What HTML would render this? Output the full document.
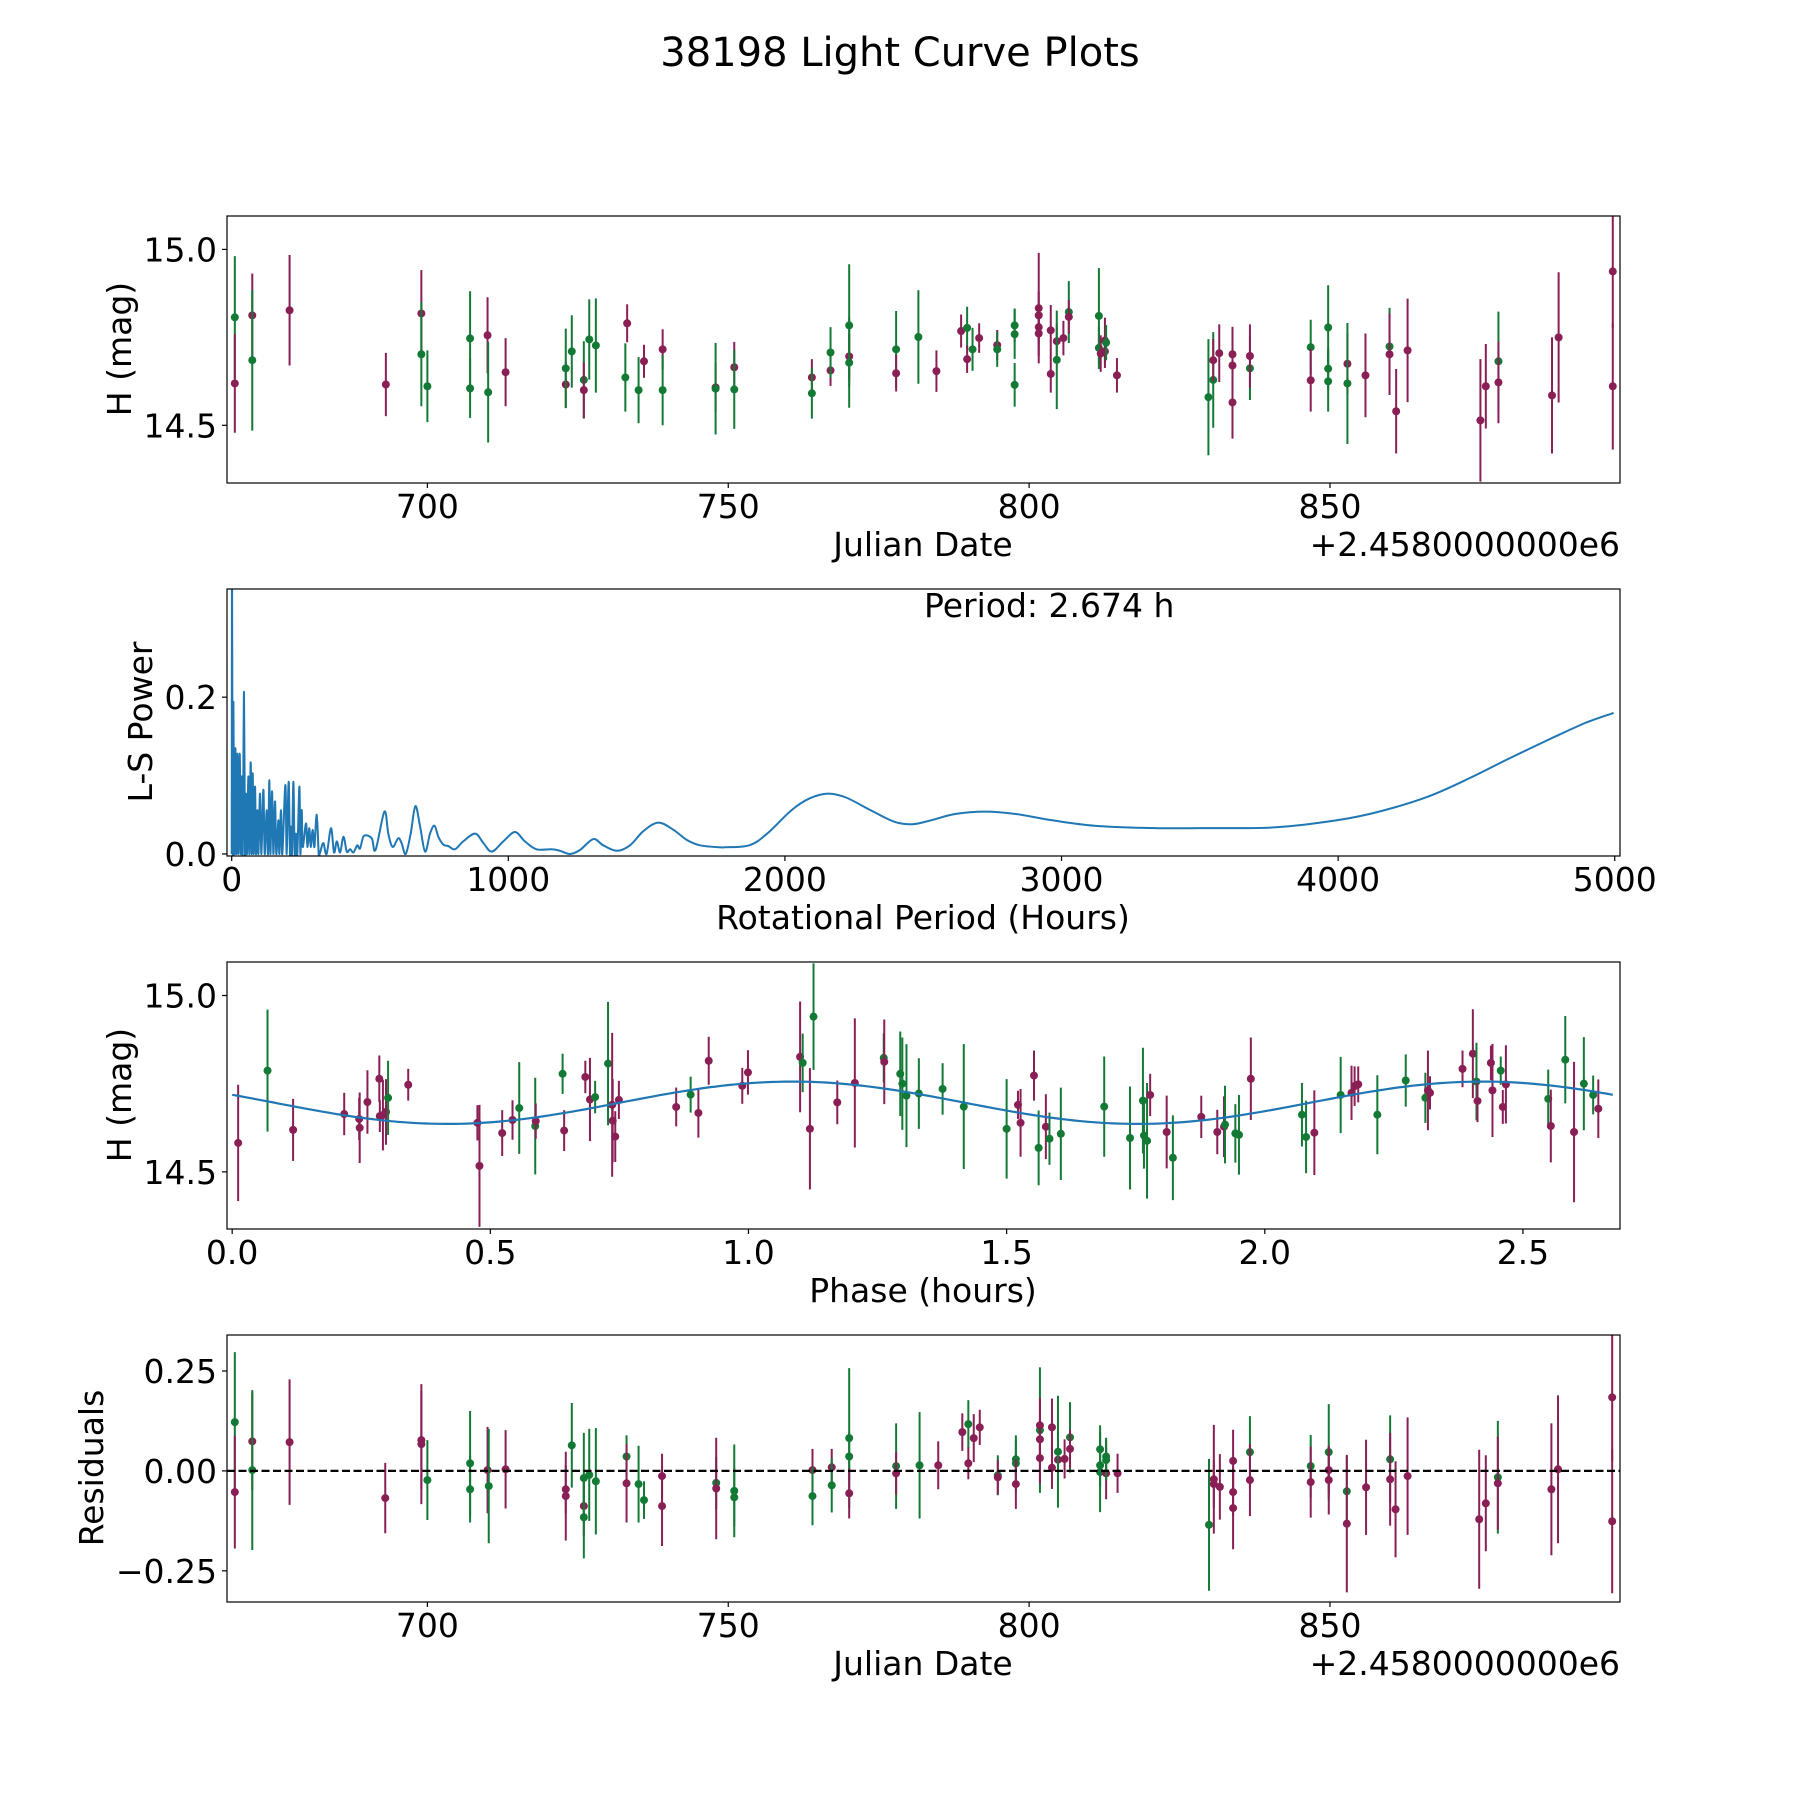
<!DOCTYPE html>
<html><head><meta charset="utf-8"><title>38198 Light Curve Plots</title>
<style>
html,body{margin:0;padding:0;background:#fff;}
svg{display:block;font-family:"DejaVu Sans","Liberation Sans",sans-serif;}
</style></head>
<body>
<svg id="fig" xmlns="http://www.w3.org/2000/svg" width="1800" height="1800" viewBox="0 0 1800 1800">
<rect x="0" y="0" width="1800" height="1800" fill="#fff"/>
<text x="900" y="66" font-size="40" text-anchor="middle">38198 Light Curve Plots</text>
<text x="923" y="556" font-size="33" text-anchor="middle">Julian Date</text>
<text x="1620" y="556" font-size="33" text-anchor="end">+2.4580000000e6</text>
<text transform="translate(131,349) rotate(-90)" font-size="33" text-anchor="middle">H (mag)</text>
<text x="923" y="929" font-size="33" text-anchor="middle">Rotational Period (Hours)</text>
<text transform="translate(152,722) rotate(-90)" font-size="33" text-anchor="middle">L-S Power</text>
<text x="924" y="617" font-size="33">Period: 2.674 h</text>
<text x="923" y="1302" font-size="33" text-anchor="middle">Phase (hours)</text>
<text transform="translate(131,1095) rotate(-90)" font-size="33" text-anchor="middle">H (mag)</text>
<text x="923" y="1675" font-size="33" text-anchor="middle">Julian Date</text>
<text x="1620" y="1675" font-size="33" text-anchor="end">+2.4580000000e6</text>
<text transform="translate(103,1468) rotate(-90)" font-size="33" text-anchor="middle">Residuals</text>
</svg>
<script>
// ---- Light curve (panel 1) ----
const lcJD = [668.0,668.0,670.9,670.9,677.1,693.1,699.0,699.0,700.0,707.1,707.1,710.0,710.1,713.0,723.0,723.0,724.0,726.0,726.0,726.9,728.0,733.2,732.9,735.1,736.0,739.1,739.1,747.9,747.9,751.0,751.0,763.9,763.9,767.0,767.0,770.1,770.1,770.1,777.9,777.9,781.6,784.6,788.7,789.7,789.7,790.6,791.7,794.7,794.7,797.6,797.6,797.6,801.6,801.6,801.6,801.6,803.6,803.6,804.6,804.6,805.7,806.6,806.6,811.6,811.6,811.9,812.6,812.6,812.8,814.6,829.8,830.6,830.6,831.6,833.8,833.8,833.8,836.7,836.7,846.8,846.8,849.7,849.7,849.7,852.9,852.9,855.9,859.9,859.9,861.0,862.9,875.0,875.9,878.0,878.0,886.9,888.0,897.0,897.0];
const lcMag = [14.807,14.619,14.8125,14.685,14.827,14.616,14.818,14.702,14.611,14.747,14.605,14.756,14.594,14.651,14.616,14.662,14.71,14.629,14.6,14.744,14.727,14.79,14.636,14.6,14.682,14.716,14.6,14.608,14.604,14.665,14.602,14.636,14.591,14.656,14.707,14.784,14.696,14.678,14.716,14.648,14.751,14.654,14.768,14.777,14.688,14.716,14.748,14.728,14.716,14.784,14.759,14.615,14.833,14.8125,14.779,14.761,14.77,14.646,14.739,14.686,14.748,14.822,14.808,14.811,14.72,14.704,14.71,14.741,14.735,14.642,14.58,14.629,14.685,14.705,14.702,14.67,14.565,14.662,14.697,14.722,14.628,14.778,14.661,14.625,14.675,14.619,14.642,14.724,14.702,14.54,14.713,14.514,14.611,14.682,14.622,14.585,14.75,14.9375,14.611];
const lcErr = [0.174,0.14,0.119,0.2,0.157,0.09,0.123,0.148,0.102,0.134,0.084,0.108,0.143,0.097,0.066,0.113,0.103,0.11,0.079,0.114,0.134,0.054,0.097,0.094,0.047,0.057,0.1,0.07,0.13,0.072,0.112,0.052,0.072,0.044,0.072,0.174,0.065,0.128,0.109,0.052,0.133,0.059,0.047,0.06,0.039,0.061,0.042,0.043,0.05,0.048,0.07,0.062,0.157,0.068,0.05,0.063,0.072,0.053,0.05,0.14,0.049,0.088,0.048,0.136,0.06,0.052,0.047,0.065,0.05,0.049,0.165,0.136,0.06,0.082,0.078,0.06,0.103,0.09,0.09,0.078,0.089,0.12,0.06,0.086,0.087,0.172,0.119,0.11,0.116,0.12,0.147,0.174,0.12,0.141,0.116,0.165,0.185,0.16,0.18];
const lcBand = "gppgpppggggpgppgggpggpggppgpgpgpgpggpggpgppgpgppggggpppppppgpgpggpppgpggpppppgpgpgggpgpgpppppgpppppppg".split("");

// ---- Lomb-Scargle (panel 2) ----
const lsPeriod = [0,1.2,3.6,6,9.6,13.3,16.9,20.5,24.1,28.9,32.5,36.1,39.8,44.6,48.2,51.8,55.4,60.2,63.9,68.7,72.3,75.9,79.5,84.3,88,92.8,96.4,102.4,107.2,114.5,119.3,126.5,131.3,136.1,139.8,145.8,150.6,156.6,161.4,168.7,172.3,178.3,183.1,194,198.8,206,210.8,214.5,218.1,222.9,227.7,232.5,237.3,244.6,248.2,253,256.6,268.7,273.5,280.7,285.5,292.8,298.8,307.2,314.5,319,331,343,359,370,380,392,404,416,428,440,454,464,478,506,520,552,566,582,602,614,629,647,664,681,699,717,733,747,765,783,807,837,880,910,940,982,1024,1060,1102,1157,1187,1223,1259,1307,1343,1392,1440,1488,1542,1596,1645,1693,1765,1783,1871,1936,2024,2090,2155,2221,2309,2396,2462,2528,2615,2725,2834,2966,3119,3338,3557,3776,3995,4148,4324,4477,4608,4762,4893,4996];
const lsPower = [0,0.38,0,0.194,0,0.135,0,0.128,0,0.128,0,0.099,0,0.207,0,0.077,0,0.099,0,0.117,0,0.103,0,0.086,0,0.056,0,0.077,0,0.082,0,0.056,0,0.094,0,0.08,0,0.067,0,0.043,0,0.056,0,0.088,0,0.092,0,0.035,0,0.092,0,0.026,0,0.086,0,0.056,0.009,0.039,0.009,0.033,0.009,0.031,0.009,0.05,0,0.001,0.014,0,0.033,0.002,0.016,0.002,0.022,0.003,0.006,0.002,0.011,0.007,0.023,0.02,0.005,0.054,0.026,0.009,0.02,0.014,0,0.026,0.061,0.035,0.003,0.026,0.036,0.022,0.012,0.01,0.006,0.016,0.026,0.014,0.003,0.016,0.028,0.016,0.006,0.006,0.004,0,0.005,0.019,0.011,0.004,0.011,0.029,0.04,0.031,0.018,0.011,0.0085,0.0085,0.011,0.026,0.056,0.071,0.077,0.072,0.056,0.041,0.038,0.043,0.051,0.054,0.051,0.043,0.036,0.033,0.033,0.034,0.043,0.054,0.073,0.097,0.12,0.146,0.167,0.18];

// ---- Phased light curve (panel 3) ----
const phPhase = [0.0116,0.0685,0.118,0.217,0.246,0.247,0.262,0.285,0.286,0.292,0.298,0.302,0.341,0.475,0.479,0.523,0.543,0.556,0.587,0.588,0.64,0.643,0.684,0.693,0.703,0.728,0.736,0.737,0.742,0.749,0.86,0.888,0.903,0.923,0.988,0.999,1.1,1.105,1.119,1.126,1.172,1.206,1.262,1.263,1.294,1.298,1.306,1.33,1.376,1.417,1.5,1.522,1.527,1.553,1.562,1.576,1.583,1.605,1.689,1.739,1.764,1.766,1.772,1.778,1.81,1.822,1.877,1.908,1.921,1.923,1.943,1.95,1.973,2.072,2.08,2.096,2.147,2.168,2.174,2.181,2.218,2.273,2.311,2.316,2.32,2.383,2.403,2.41,2.412,2.438,2.441,2.457,2.461,2.467,2.549,2.554,2.582,2.599,2.618,2.636,2.646];
const phMag = [14.582,14.787,14.619,14.664,14.65,14.625,14.698,14.764,14.658,14.661,14.67,14.71,14.747,14.639,14.517,14.61,14.647,14.681,14.63,14.644,14.778,14.617,14.769,14.705,14.712,14.807,14.69,14.645,14.6,14.704,14.684,14.719,14.667,14.815,14.744,14.782,14.826,14.809,14.622,14.94,14.697,14.752,14.823,14.812,14.778,14.75,14.716,14.722,14.735,14.685,14.622,14.69,14.639,14.773,14.568,14.628,14.594,14.608,14.685,14.596,14.702,14.603,14.588,14.718,14.613,14.54,14.656,14.613,14.628,14.634,14.609,14.605,14.764,14.662,14.599,14.611,14.718,14.724,14.743,14.748,14.662,14.759,14.71,14.731,14.724,14.792,14.835,14.756,14.701,14.809,14.731,14.787,14.684,14.748,14.707,14.63,14.818,14.613,14.75,14.718,14.679];
const phErr = [0.165,0.173,0.088,0.06,0.06,0.1,0.09,0.066,0.045,0.1,0.093,0.105,0.045,0.05,0.173,0.065,0.056,0.13,0.137,0.05,0.057,0.058,0.046,0.118,0.046,0.175,0.204,0.118,0.072,0.054,0.055,0.051,0.07,0.068,0.051,0.063,0.157,0.083,0.172,0.151,0.062,0.183,0.07,0.12,0.12,0.131,0.146,0.1,0.073,0.177,0.141,0.04,0.096,0.071,0.106,0.092,0.074,0.131,0.142,0.146,0.15,0.094,0.164,0.06,0.103,0.12,0.06,0.063,0.086,0.11,0.083,0.113,0.117,0.09,0.103,0.12,0.108,0.077,0.056,0.051,0.112,0.074,0.071,0.113,0.047,0.052,0.126,0.11,0.06,0.049,0.132,0.04,0.048,0.111,0.083,0.103,0.124,0.199,0.132,0.055,0.083];
const phBand = "pgpppppppppgpppppggpgpppggpppppgpppppgpgppgpgggggggpppgpgggggggppgpppgggpggpgpppgggppppgpppgppgpgpggpp".split("");
// Fitted model coefficients: mean magnitude, amplitude, phase of maximum, model period (hours)
const fitMean = [14.696];
const fitAmp = [0.06];
const fitPeak = [1.085];
const fitHalfPeriod = [1.337];

// ---- Residuals (panel 4) ----
const rsJD = [668.0,668.0,670.9,670.9,677.1,693.0,699.0,699.0,700.0,707.1,707.1,710.0,710.2,713.0,723.0,723.0,724.0,726.0,726.0,726.0,726.9,728.0,733.1,733.1,735.1,736.0,739.0,739.0,748.0,748.0,751.0,751.0,764.0,764.0,767.2,767.2,770.1,770.1,770.1,777.9,777.9,781.8,784.9,788.9,789.9,789.9,790.8,791.8,794.8,794.8,797.8,797.8,797.8,801.8,801.8,801.8,801.8,803.8,803.8,804.8,804.8,805.9,806.8,806.8,811.8,811.8,811.8,812.8,812.8,812.8,814.7,829.9,830.7,830.7,831.7,833.9,833.9,833.9,836.7,836.7,846.8,846.8,849.8,849.8,849.8,852.8,852.8,856.0,860.0,860.0,860.9,862.9,874.8,875.9,877.9,877.9,886.8,887.9,896.9,896.9];
const rsVal = [0.122,-0.053,0.074,0.002,0.072,-0.068,0.077,0.067,-0.023,0.019,-0.046,0.002,-0.038,0.004,-0.046,-0.063,0.064,-0.088,-0.116,-0.018,-0.01,-0.026,0.036,-0.031,-0.033,-0.073,-0.013,-0.088,-0.03,-0.044,-0.05,-0.066,0.002,-0.063,0.009,-0.036,0.082,0.036,-0.056,0.012,-0.006,0.014,0.014,0.097,0.117,0.019,0.082,0.109,-0.011,-0.016,0.029,0.019,-0.033,0.102,0.114,0.079,0.032,0.109,0.008,0.028,0.048,0.03,0.084,0.055,0.054,-0.003,0.014,0.036,-0.006,0.027,-0.006,-0.135,-0.021,-0.033,-0.04,0.025,-0.053,-0.093,0.047,-0.023,0.012,-0.028,0.047,0.002,-0.023,-0.051,-0.132,-0.041,0.029,-0.021,-0.096,-0.013,-0.121,-0.081,-0.016,-0.031,-0.046,0.004,0.184,-0.126];
const rsErr = [0.175,0.141,0.122,0.2,0.157,0.088,0.123,0.15,0.1,0.131,0.083,0.108,0.143,0.098,0.06,0.111,0.106,0.075,0.103,0.113,0.115,0.133,0.053,0.098,0.096,0.047,0.056,0.1,0.065,0.127,0.116,0.073,0.053,0.073,0.046,0.068,0.175,0.06,0.063,0.107,0.053,0.133,0.06,0.047,0.06,0.04,0.06,0.044,0.05,0.043,0.048,0.07,0.062,0.157,0.068,0.05,0.063,0.072,0.053,0.05,0.14,0.049,0.088,0.048,0.06,0.1,0.052,0.047,0.065,0.05,0.049,0.165,0.136,0.06,0.082,0.078,0.06,0.103,0.09,0.09,0.078,0.089,0.12,0.06,0.086,0.087,0.172,0.119,0.11,0.116,0.12,0.147,0.174,0.12,0.141,0.116,0.165,0.185,0.16,0.18];
const rsBand = "gppgppppgggpgpppgpgggggpggppgpggpgpgggpgpgppgpppgpggpgppppppgpgpggggpgpgppppppgpgpgppgppgpppppgpppppppg".split("");

const lcTicksX = [700,750,800,850];
const lcTicksY = [14.5,15.0];
const lsTicksX = [0,1000,2000,3000,4000,5000];
const lsTicksY = [0.0,0.2];
const phTicksX = [0.0,0.5,1.0,1.5,2.0,2.5];
const rsTicksY = [-0.25,0.0,0.25];

const NS = "http://www.w3.org/2000/svg";
const svg = document.getElementById("fig");
const COL = {g:"#137a35", p:"#8a1f55"};
const X0 = 227, X1 = 1620;

function mk(tag, name, parent){
  const el = document.createElementNS(NS, tag);
  
  
  (parent || svg).appendChild(el);
  return el;
}
function scale(d0,d1,r0,r1){ return v => r0 + (v-d0)*(r1-r0)/(d1-d0); }
function fmt(v,dec){ const s = v.toFixed(dec); return v < 0 ? "\u2212" + s.slice(1) : s; }

let clipId = 0;
function makePanel(name, xd, yd, top, bottom){
  const p = {sx: scale(xd[0],xd[1],X0,X1), sy: scale(yd[0],yd[1],bottom,top), top, bottom};
  const cp = mk('clipPath', name + '-clip');
  cp.setAttribute('id', 'clip' + (++clipId));
  const r = mk('rect', name + '-clip-rect', cp);
  r.setAttribute('x', X0); r.setAttribute('y', top);
  r.setAttribute('width', X1-X0); r.setAttribute('height', bottom-top);
  const g = mk('g', name + '-plot-area');
  g.setAttribute('clip-path', 'url(#clip' + clipId + ')');
  p.g = g;
  return p;
}
function frame(p, name){
  const r = mk('rect', name + '-frame');
  r.setAttribute('x', X0); r.setAttribute('y', p.top);
  r.setAttribute('width', X1-X0); r.setAttribute('height', p.bottom-p.top);
  r.setAttribute('fill', 'none'); r.setAttribute('stroke', '#000'); r.setAttribute('stroke-width', '1.2');
}
function xTicks(p, ticks, dec, name){
  ticks.forEach(t => {
    const x = p.sx(t);
    const l = mk('line', name + '-x-tick');
    l.setAttribute('x1', x); l.setAttribute('x2', x);
    l.setAttribute('y1', p.bottom); l.setAttribute('y2', p.bottom + 5);
    l.setAttribute('stroke', '#000'); l.setAttribute('stroke-width', '1.2');
    const tx = mk('text', name + '-x-tick-label');
    tx.setAttribute('x', x); tx.setAttribute('y', p.bottom + 35);
    tx.setAttribute('font-size', '33'); tx.setAttribute('text-anchor', 'middle');
    tx.textContent = fmt(t, dec);
  });
}
function yTicks(p, ticks, dec, name){
  ticks.forEach(t => {
    const y = p.sy(t);
    const l = mk('line', name + '-y-tick');
    l.setAttribute('x1', X0 - 5); l.setAttribute('x2', X0);
    l.setAttribute('y1', y); l.setAttribute('y2', y);
    l.setAttribute('stroke', '#000'); l.setAttribute('stroke-width', '1.2');
    const tx = mk('text', name + '-y-tick-label');
    tx.setAttribute('x', X0 - 10); tx.setAttribute('y', y + 12);
    tx.setAttribute('font-size', '33'); tx.setAttribute('text-anchor', 'end');
    tx.textContent = fmt(t, dec);
  });
}
function errPoints(p, xs, ys, es, bands, name){
  for (let i = 0; i < xs.length; i++){
    const x = p.sx(xs[i]);
    const c = COL[bands[i]] || COL.p;
    const l = mk('line', name + '-errorbar', p.g);
    l.setAttribute('x1', x); l.setAttribute('x2', x);
    l.setAttribute('y1', p.sy(ys[i] - es[i])); l.setAttribute('y2', p.sy(ys[i] + es[i]));
    l.setAttribute('stroke', c); l.setAttribute('stroke-width', '2');
    const d = mk('circle', name + '-point', p.g);
    d.setAttribute('cx', x); d.setAttribute('cy', p.sy(ys[i]));
    d.setAttribute('r', '4'); d.setAttribute('fill', c);
  }
}
// Catmull-Rom smoothed path through screen points
function smoothPath(pts){
  let d = 'M' + pts[0][0].toFixed(1) + ',' + pts[0][1].toFixed(1);
  for (let i = 0; i < pts.length - 1; i++){
    const p0 = pts[Math.max(0, i-1)], p1 = pts[i], p2 = pts[i+1], p3 = pts[Math.min(pts.length-1, i+2)];
    const c1x = p1[0] + (p2[0]-p0[0])/6, c1y = p1[1] + (p2[1]-p0[1])/6;
    const c2x = p2[0] - (p3[0]-p1[0])/6, c2y = p2[1] - (p3[1]-p1[1])/6;
    d += 'C' + c1x.toFixed(1) + ',' + c1y.toFixed(1) + ' ' + c2x.toFixed(1) + ',' + c2y.toFixed(1) + ' ' + p2[0].toFixed(1) + ',' + p2[1].toFixed(1);
  }
  return d;
}

// Panel 1
const p1 = makePanel('lc', [666.7, 898.2], [14.336, 15.095], 216, 483);
errPoints(p1, lcJD, lcMag, lcErr, lcBand, 'lc');
frame(p1, 'lc'); xTicks(p1, lcTicksX, 0, 'lc'); yTicks(p1, lcTicksY, 1, 'lc');

// Panel 2
const p2 = makePanel('ls', [-17, 5019], [-0.0026, 0.338], 589, 856);
const lsPts = lsPeriod.map((v,i) => [p2.sx(v), p2.sy(lsPower[i])]);
const lsPath = mk('path', 'ls-power-line', p2.g);
lsPath.setAttribute('d', smoothPath(lsPts));
lsPath.setAttribute('fill', 'none'); lsPath.setAttribute('stroke', '#1f77b4');
lsPath.setAttribute('stroke-width', '2'); lsPath.setAttribute('stroke-linejoin', 'round');
frame(p2, 'ls'); xTicks(p2, lsTicksX, 0, 'ls'); yTicks(p2, lsTicksY, 1, 'ls');

// Panel 3
const p3 = makePanel('phase', [-0.01, 2.688], [14.338, 15.095], 962, 1229);
errPoints(p3, phPhase, phMag, phErr, phBand, 'phase');
const fitPts = [];
for (let k = 0; k <= 200; k++){
  const ph = 2.674 * k / 200;
  const m = fitMean[0] + fitAmp[0] * Math.cos(2*Math.PI*(ph - fitPeak[0]) / fitHalfPeriod[0]);
  fitPts.push((k ? 'L' : 'M') + p3.sx(ph).toFixed(1) + ',' + p3.sy(m).toFixed(1));
}
const fitPath = mk('path', 'model-fit-curve', p3.g);
fitPath.setAttribute('d', fitPts.join(''));
fitPath.setAttribute('fill', 'none'); fitPath.setAttribute('stroke', '#1f77b4'); fitPath.setAttribute('stroke-width', '2.2');
frame(p3, 'phase'); xTicks(p3, phTicksX, 1, 'phase'); yTicks(p3, lcTicksY, 1, 'phase');

// Panel 4
const p4 = makePanel('resid', [666.7, 898.2], [-0.328, 0.34], 1335, 1602);
errPoints(p4, rsJD, rsVal, rsErr, rsBand, 'resid');
const zl = mk('line', 'zero-reference-line', p4.g);
zl.setAttribute('x1', X0); zl.setAttribute('x2', X1);
zl.setAttribute('y1', p4.sy(0)); zl.setAttribute('y2', p4.sy(0));
zl.setAttribute('stroke', '#000'); zl.setAttribute('stroke-width', '2.2'); zl.setAttribute('stroke-dasharray', '8,3.5');
frame(p4, 'resid'); xTicks(p4, lcTicksX, 0, 'resid'); yTicks(p4, rsTicksY, 2, 'resid');
</script>
</body></html>
